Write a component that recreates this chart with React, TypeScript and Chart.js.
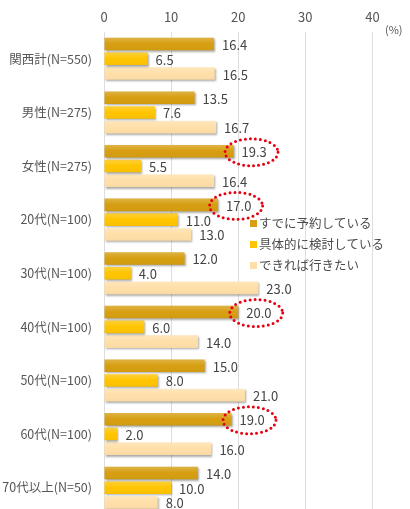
import React, { useEffect, useRef } from "react";
import { Chart, registerables } from "chart.js";

Chart.register(...registerables);

const categories = [
  "関西計(N=550)",
  "男性(N=275)",
  "女性(N=275)",
  "20代(N=100)",
  "30代(N=100)",
  "40代(N=100)",
  "50代(N=100)",
  "60代(N=100)",
  "70代以上(N=50)",
];
const seriesNames = ["すでに予約している", "具体的に検討している", "できれば行きたい"];
const reserved = [16.4, 13.5, 19.3, 17.0, 12.0, 20.0, 15.0, 19.0, 14.0];
const considering = [6.5, 7.6, 5.5, 11.0, 4.0, 6.0, 8.0, 2.0, 10.0];
const wishing = [16.5, 16.7, 16.4, 13.0, 23.0, 14.0, 21.0, 16.0, 8.0];
const xTicks = [0, 10, 20, 30, 40];
const highlighted = [2, 3, 5, 7]; // indices of circled "すでに予約している" values

const colors = ["#D69E10", "#FFC400", "#FFDFA8"];
const FONT = '"Noto Sans CJK JP", "Noto Sans", sans-serif';

export default function App() {
  const ref = useRef<HTMLCanvasElement | null>(null);

  useEffect(() => {
    if (!ref.current) return;

    const shadowPlugin = {
      id: "barShadow",
      beforeDatasetDraw(chart: any) {
        const c = chart.ctx;
        c.save();
        c.shadowColor = "rgba(0,0,0,0.35)";
        c.shadowBlur = 2;
        c.shadowOffsetX = 1;
        c.shadowOffsetY = 1.5;
      },
      afterDatasetDraw(chart: any) {
        chart.ctx.restore();
      },
    };

    const overlayPlugin = {
      id: "overlay",
      afterDatasetsDraw(chart: any) {
        const c = chart.ctx;
        chart.data.datasets.forEach((ds: any, di: number) => {
          const meta = chart.getDatasetMeta(di);
          meta.data.forEach((bar: any) => {
            const h = bar.height;
            const top = bar.y - h / 2;
            const g = c.createLinearGradient(0, top, 0, top + h);
            g.addColorStop(0, "rgba(255,255,255,0.22)");
            g.addColorStop(0.5, "rgba(255,255,255,0.0)");
            g.addColorStop(1, "rgba(0,0,0,0.03)");
            c.fillStyle = g;
            c.fillRect(bar.base, top, bar.x - bar.base, h);
          });
        });
        c.save();
        c.font = `13px ${FONT}`;
        c.fillStyle = "#444";
        c.textBaseline = "middle";
        c.textAlign = "left";
        chart.data.datasets.forEach((ds: any, di: number) => {
          const meta = chart.getDatasetMeta(di);
          meta.data.forEach((bar: any, i: number) => {
            c.fillText(Number(ds.data[i]).toFixed(1), bar.x + 8, bar.y + 1);
          });
        });
        c.restore();
        c.save();
        c.strokeStyle = "#E60012";
        c.lineWidth = 3;
        c.lineCap = "round";
        c.setLineDash([0, 5]);
        const meta0 = chart.getDatasetMeta(0);
        highlighted.forEach((i) => {
          const bar = meta0.data[i];
          c.beginPath();
          c.ellipse(bar.x + 18, bar.y + 1, 26.5, 13.5, 0, 0, Math.PI * 2);
          c.stroke();
        });
        c.restore();
        c.save();
        c.font = `12.5px ${FONT}`;
        c.textBaseline = "middle";
        c.textAlign = "left";
        seriesNames.forEach((name, k) => {
          const y = 223.5 + k * 21;
          c.fillStyle = colors[k];
          c.fillRect(250, y - 3.5, 7, 7);
          c.fillStyle = "#4a4a4a";
          c.fillText(name, 259, y);
        });
        c.restore();
        c.save();
        c.font = `11px ${FONT}`;
        c.fillStyle = "#555";
        c.textBaseline = "middle";
        c.textAlign = "left";
        c.fillText("(%)", 385, 30);
        c.restore();
      },
    };

    const chart = new Chart(ref.current, {
      type: "bar",
      data: {
        labels: categories,
        datasets: [reserved, considering, wishing].map((d, k) => ({
          label: seriesNames[k],
          data: d,
          backgroundColor: colors[k],
          borderWidth: 0,
          barPercentage: 0.85,
          categoryPercentage: 0.826,
        })),
      },
      options: {
        indexAxis: "y",
        responsive: false,
        animation: false,
        layout: { padding: { left: 0, right: 4, top: 0, bottom: 5 } },
        plugins: {
          legend: { display: false },
          tooltip: { enabled: false },
        },
        scales: {
          x: {
            position: "top",
            min: 0,
            max: 45,
            afterBuildTicks(scale: any) {
              scale.ticks = xTicks.map((v) => ({ value: v }));
            },
            afterFit(scale: any) {
              scale.height = 32;
            },
            ticks: {
              font: { family: FONT, size: 13 },
              color: "#555",
              padding: 7,
            },
            grid: { color: "#DDDDDD", lineWidth: 1, drawTicks: false },
            border: { display: false },
          },
          y: {
            afterFit(scale: any) {
              scale.width = 104;
            },
            ticks: {
              font: { family: FONT, size: 12.5 },
              color: "#555",
              padding: 12,
            },
            grid: { display: false, drawTicks: false },
            border: { display: false },
          },
        },
      },
      plugins: [shadowPlugin, overlayPlugin],
    } as any);

    return () => chart.destroy();
  }, []);

  return (
    <div style={{ position: "absolute", left: 0, top: 0, width: 410, height: 534 }}>
      <canvas ref={ref} width={410} height={534} />
    </div>
  );
}
